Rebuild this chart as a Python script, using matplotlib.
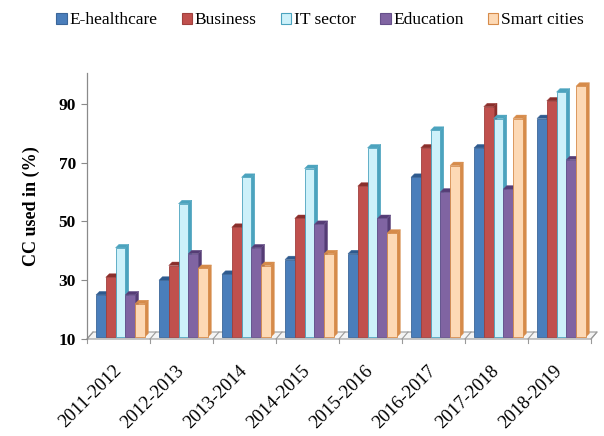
import matplotlib
matplotlib.use("Agg")
import matplotlib.pyplot as plt
from matplotlib.patches import Rectangle, Polygon, Patch
from matplotlib.lines import Line2D

plt.rcParams['font.family'] = ['Liberation Serif', 'DejaVu Serif']

years = ["2011-2012", "2012-2013", "2013-2014", "2014-2015",
         "2015-2016", "2016-2017", "2017-2018", "2018-2019"]
series_names = ["E-healthcare", "Business", "IT sector", "Education", "Smart cities"]
e_healthcare = [25, 30, 32, 37, 39, 65, 75, 85]
business = [31, 35, 48, 51, 62, 75, 89, 91]
it_sector = [41, 56, 65, 68, 75, 81, 85, 94]
education = [25, 39, 41, 49, 51, 60, 61, 71]
smart_cities = [22, 34, 35, 39, 46, 69, 85, 96]
y_ticks = [10, 30, 50, 70, 90]

series = [e_healthcare, business, it_sector, education, smart_cities]
# front, side/top, edge colours for each series
front_cols = ["#4A7EBB", "#C0504D", "#CDF1FA", "#8064A2", "#FDD9B5"]
side_cols = ["#2E5A8E", "#8A2F2C", "#4BA3BE", "#553C75", "#D68B4A"]
edge_cols = ["#3B6699", "#A0403D", "#4BA3BE", "#66508A", "#D68B4A"]

W_PX, H_PX = 604, 436
fig = plt.figure(figsize=(W_PX / 100, H_PX / 100), dpi=100)
L, R, T, Bt = 87, 591, 73, 339
ax = fig.add_axes([L / W_PX, 1 - Bt / H_PX, (R - L) / W_PX, (Bt - T) / H_PX])
ymin, ymax = 10, 100.5
n = len(years)
ax.set_xlim(0, n)
ax.set_ylim(ymin, ymax)

px_x = (R - L) / n
px_y = (Bt - T) / (ymax - ymin)
def dxd(p):
    return p / px_x
def dyd(p):
    return p / px_y

# floor
fdx, fdy = dxd(6), dyd(7)
floor = Polygon([(0, ymin), (n, ymin), (n + fdx, ymin + fdy), (fdx, ymin + fdy)],
                closed=True, facecolor="#F4F4F4", edgecolor="#9A9A9A", lw=0.8,
                clip_on=False, zorder=1)
ax.add_patch(floor)
for k in range(n + 1):
    ax.add_line(Line2D([k, k + fdx], [ymin, ymin + fdy], color="#9A9A9A", lw=0.8,
                       clip_on=False, zorder=1))
    ax.add_line(Line2D([k, k], [ymin, ymin - dyd(4)], color="#9A9A9A", lw=0.8,
                       clip_on=False, zorder=1))

# bars with a small depth offset
bw = 0.155
bdx, bdy = dxd(3.5), dyd(3.5)
base = ymin + dyd(2)
z = 2
for i in range(n):
    start = i + 0.53 - 2.5 * bw
    for j, vals in enumerate(series):
        v = vals[i]
        x0 = start + j * bw
        x1 = x0 + bw
        side = Polygon([(x1, base), (x1 + bdx, base + bdy), (x1 + bdx, v + bdy), (x1, v)],
                       closed=True, facecolor=side_cols[j], edgecolor=side_cols[j],
                       lw=0.3, zorder=z, clip_on=False)
        top = Polygon([(x0, v), (x0 + bdx, v + bdy), (x1 + bdx, v + bdy), (x1, v)],
                      closed=True, facecolor=side_cols[j], edgecolor=edge_cols[j],
                      lw=0.3, zorder=z, clip_on=False)
        front = Rectangle((x0, base), bw, v - base, facecolor=front_cols[j],
                          edgecolor=edge_cols[j], lw=0.6, zorder=z + 0.5, clip_on=False)
        ax.add_patch(side)
        ax.add_patch(top)
        ax.add_patch(front)
        z += 1

for s in ["top", "right", "bottom"]:
    ax.spines[s].set_visible(False)
ax.spines["left"].set_color("#8A8A8A")
ax.spines["left"].set_linewidth(0.9)

ax.set_yticks(y_ticks)
ax.set_yticklabels([str(t) for t in y_ticks], fontsize=12.5, fontweight="bold")
ax.tick_params(axis="y", direction="out", length=4, color="#8A8A8A", pad=4)
ax.set_ylabel("CC used in (%)", fontsize=13, fontweight="bold", labelpad=13)

ax.set_xticks([i + 0.5 for i in range(n)])
ax.set_xticklabels(years, rotation=45, ha="right", va="center",
                   rotation_mode="anchor", fontsize=13.5)
ax.tick_params(axis="x", length=0, pad=21)

handles = [Patch(facecolor=front_cols[j], edgecolor=edge_cols[j], lw=0.8)
           for j in range(len(series_names))]
fig.legend(handles, series_names, loc="upper center", bbox_to_anchor=(0.53, 1.0),
           ncol=5, frameon=False, fontsize=12.5, handlelength=0.6, handleheight=0.6,
           handletextpad=0.15, columnspacing=1.4, borderaxespad=0.3)

fig.savefig("out.png", dpi=100)
